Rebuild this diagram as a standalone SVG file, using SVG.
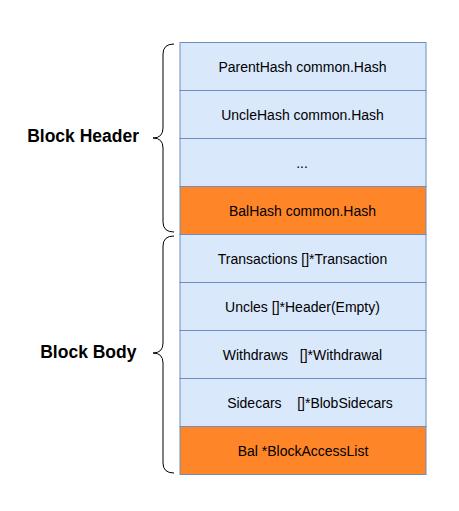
<svg xmlns="http://www.w3.org/2000/svg" width="459" height="511" viewBox="0 0 459 511">
<style>
.row{fill:#dae8fc;stroke:#6c8ebf;stroke-width:1}
.hot{fill:#fe8629;stroke:#6c8ebf;stroke-width:1}
.t{font-family:"Liberation Sans",Arial,sans-serif;font-size:14px;fill:#000;text-anchor:middle}
.lbl{font-family:"Liberation Sans",Arial,sans-serif;font-size:17.5px;font-weight:bold;fill:#000;text-anchor:end}
.brace{fill:none;stroke:#000;stroke-width:1}
</style>
<rect width="459" height="511" fill="#fff"/>
<g id="row-parenthash"><rect class="row" x="180" y="42.5" width="246" height="48"/><text class="t" x="302.5" y="71.5">ParentHash common.Hash</text></g>
<g id="row-unclehash"><rect class="row" x="180" y="90.5" width="246" height="48"/><text class="t" x="302.5" y="119.5">UncleHash common.Hash</text></g>
<g id="row-dots"><rect class="row" x="180" y="138.5" width="246" height="48"/><text class="t" x="302" y="167.5">...</text></g>
<g id="row-balhash"><rect class="hot" x="180" y="186.5" width="246" height="48"/><text class="t" x="302.5" y="215.5">BalHash common.Hash</text></g>
<g id="row-transactions"><rect class="row" x="180" y="234.5" width="246" height="48"/><text class="t" x="302.5" y="263.5">Transactions []*Transaction</text></g>
<g id="row-uncles"><rect class="row" x="180" y="282.5" width="246" height="48"/><text class="t" x="302.5" y="311.5">Uncles []*Header(Empty)</text></g>
<g id="row-withdraws"><rect class="row" x="180" y="330.5" width="246" height="48"/><text class="t" x="302.5" y="359.5" xml:space="preserve">Withdraws   []*Withdrawal</text></g>
<g id="row-sidecars"><rect class="row" x="180" y="378.5" width="246" height="48"/><text class="t" x="310" y="407.5" xml:space="preserve">Sidecars    []*BlobSidecars</text></g>
<g id="row-bal"><rect class="hot" x="180" y="426.5" width="246" height="48"/><text class="t" x="303" y="455.5">Bal *BlockAccessList</text></g>
<g id="label-header"><text class="lbl" x="139" y="142">Block Header</text></g>
<g id="label-body"><text class="lbl" x="136.5" y="358">Block Body</text></g>
<g id="connectors">
<path class="brace" d="M174,44 Q163,44 163,54 L163,128 Q163,138 153,138 Q163,138 163,148 L163,222 Q163,232 174,232"/>
<path class="brace" d="M174,236 Q163,236 163,246 L163,343 Q163,353 153,353 Q163,353 163,363 L163,463 Q163,473 174,473"/>
</g>
</svg>
